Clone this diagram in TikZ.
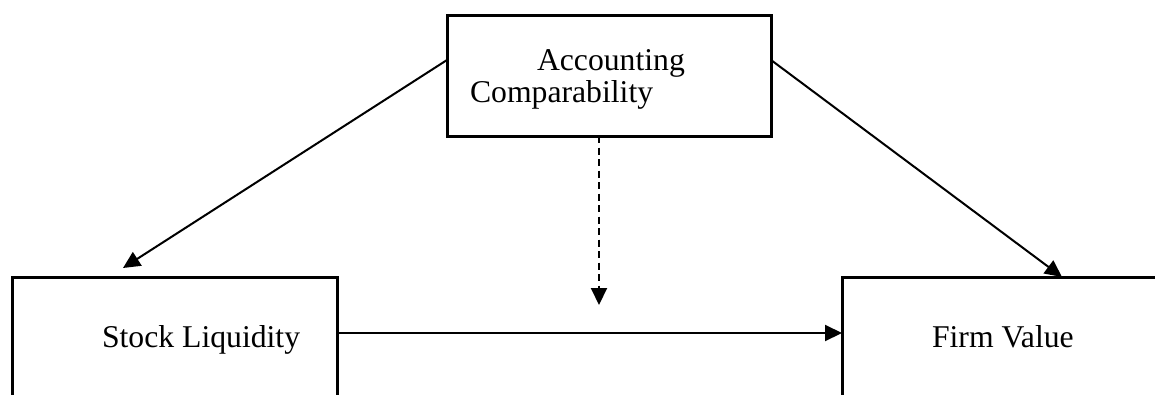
\documentclass[tikz,border=0pt]{standalone}
\usepackage{fontspec}
\setmainfont{Liberation Serif}
\usetikzlibrary{arrows.meta}
\begin{document}
\begin{tikzpicture}[x=1pt,y=-1pt,
  boxstyle/.style={draw=black,line width=3pt,rectangle,inner sep=0pt,outer sep=0pt,anchor=north west},
  lbl/.style={inner sep=0pt,outer sep=0pt,font=\fontsize{31.7}{32}\selectfont},
  conn/.style={line width=2pt,-{Triangle[length=17pt,width=16pt]}},
  dconn/.style={conn,dash pattern=on 7pt off 4.5pt}]
\useasboundingbox (0,0) rectangle (1155,394);
\clip (0,0) rectangle (1155,394);
% boxes
\node[boxstyle,minimum width=324pt,minimum height=121pt] (tb) at (447,15) {};
\node[boxstyle,minimum width=325pt,minimum height=160pt] (lb) at (12,277) {};
\node[boxstyle,minimum width=325pt,minimum height=160pt] (rb) at (842,277) {};
% texts
\node[lbl,anchor=base west] (t1) at (537,70) {Accounting};
\node[lbl,anchor=base west] (t2) at (470,102) {Comparability};
\node[lbl,anchor=base west] (t3) at (102,347) {Stock Liquidity};
\node[lbl,anchor=base west] (t4) at (932,347) {Firm Value};
% anchor points
\coordinate (la) at ([xshift=111pt,yshift=9pt]lb.north west);
\coordinate (ra) at ([xshift=220pt]rb.north west);
\coordinate (dm) at (599,305);
% connectors
\draw[conn] ([yshift=-45pt]tb.north west) -- (la);
\draw[conn] ([yshift=-45pt]tb.north east) -- (ra);
\draw[dconn] (tb.south -| dm) -- (dm);
\draw[conn] (lb.east |- 0,333) -- (rb.west |- 0,333);
\end{tikzpicture}
\end{document}
